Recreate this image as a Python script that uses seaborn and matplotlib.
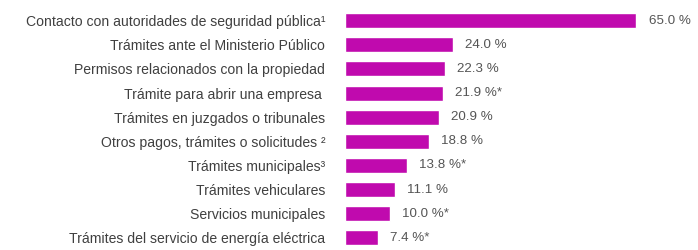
import matplotlib
matplotlib.use("Agg")
import matplotlib.pyplot as plt
import seaborn as sns
import pandas as pd

categories = [
    "Contacto con autoridades de seguridad pública¹",
    "Trámites ante el Ministerio Público",
    "Permisos relacionados con la propiedad",
    "Trámite para abrir una empresa ",
    "Trámites en juzgados o tribunales",
    "Otros pagos, trámites o solicitudes ²",
    "Trámites municipales³",
    "Trámites vehiculares",
    "Servicios municipales",
    "Trámites del servicio de energía eléctrica",
]
values = [65.0, 24.0, 22.3, 21.9, 20.9, 18.8, 13.8, 11.1, 10.0, 7.4]
flags = ["", "", "", "*", "", "", "*", "", "*", "*"]

sns.set_theme(style="white")
plt.rcParams["font.family"] = ["Liberation Sans", "DejaVu Sans"]

df = pd.DataFrame({"cat": categories, "val": values})

fig = plt.figure(figsize=(6.98, 2.5), dpi=100)
ax = fig.add_axes([0.494, 0.0, 0.45, 0.966])
sns.barplot(data=df, x="val", y="cat", orient="h", color="#C00AAE",
            saturation=1, width=0.62, ax=ax)
ax.set_xlim(0, 70)
ax.set_xlabel("")
ax.set_ylabel("")
ax.set_xticks([])
ax.tick_params(axis="y", length=0, pad=14, labelsize=10.1, labelcolor="#404040")
for s in ax.spines.values():
    s.set_visible(False)

for i, (v, f) in enumerate(zip(values, flags)):
    ax.text(v + 2.7, i, f"{v:.1f} %{f}", va="center", ha="left",
            fontsize=9.6, color="#555555")

fig.savefig("out.png", dpi=100)
